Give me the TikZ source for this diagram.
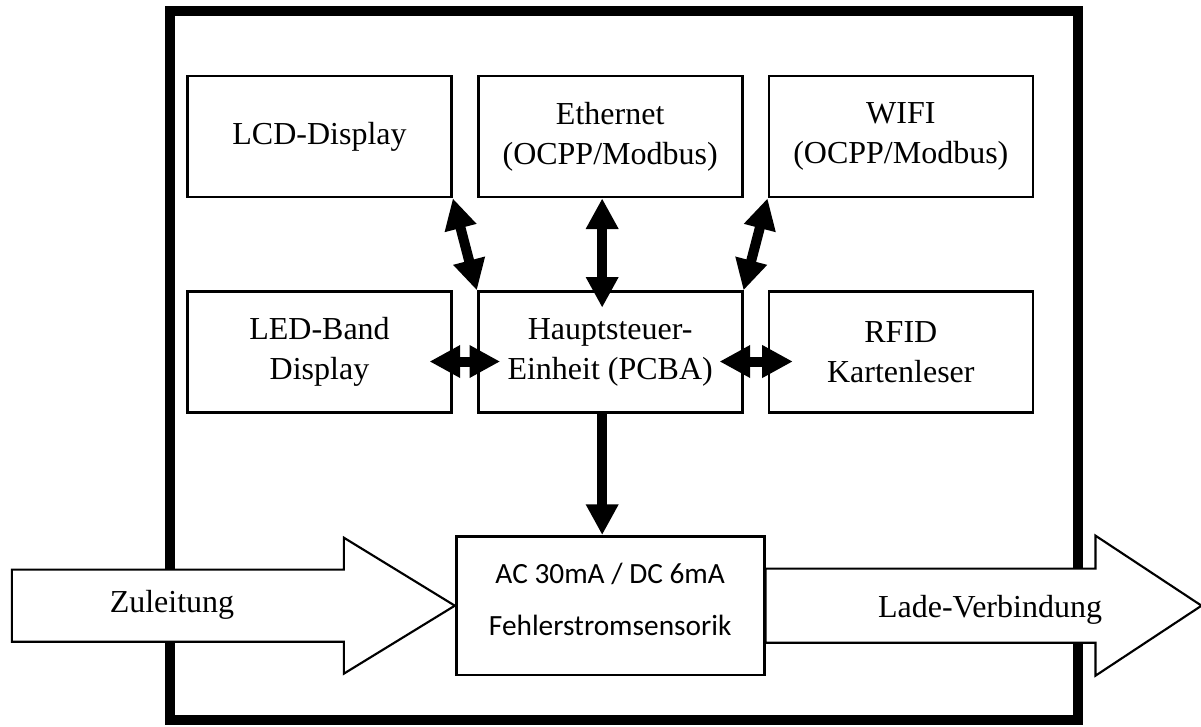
\documentclass[tikz,border=0pt]{standalone}
\usepackage{fontspec}
\setmainfont{Liberation Serif}
\newfontfamily\calibrifont{Carlito}
\usetikzlibrary{arrows.meta,positioning,backgrounds}

\begin{document}
\begin{tikzpicture}[
  x=0.75pt, y=-0.75pt,
  node distance=69pt and 18pt,
  box/.style={draw, line width=2pt, align=center, font=\fontsize{24}{30}\selectfont,
              minimum width=198pt, minimum height=90.75pt, inner sep=0pt},
  dbl/.style={{Triangle[length=23pt,width=23pt]}-{Triangle[length=23pt,width=23pt]},
              line width=7.5pt},
  sgl/.style={-{Triangle[length=23pt,width=23pt]}, line width=7.5pt},
  bigarr/.style={draw, line width=1.6pt, fill=white},
  lbl/.style={font=\fontsize{24}{30}\selectfont, inner sep=0pt}]
\useasboundingbox (0,0) rectangle (1201,726);
% boxes
\node[box] (lcd) at (319.5,136.5) {LCD-Display};
\node[box, right=of lcd] (eth) {Ethernet\\(OCPP/Modbus)};
\node[box, right=of eth] (wifi) {WIFI\\(OCPP/Modbus)};
\node[box, below=of lcd] (led) {LED-Band\\Display};
\node[box, below=of eth] (haupt) {Hauptsteuer-\\Einheit (PCBA)};
\node[box, below=of wifi] (rfid) {RFID\\Kartenleser};
\node[box, below=90.75pt of haupt, minimum width=231pt, minimum height=104pt,
      text depth=10pt, font=\calibrifont\fontsize{22}{39}\selectfont] (ac)
      {AC 30mA / DC 6mA\\Fehlerstromsensorik};
% frame and power arrows behind the boxes
\begin{scope}[on background layer]
\draw[line width=8pt] (170,11) rectangle (1078,720);
\draw[bigarr] (ac.west) -- ++(-111,-68) -- ++(0,32) -- ++(-332,0) -- ++(0,72)
  -- ++(332,0) -- ++(0,32) -- cycle;
\draw[bigarr] (ac.east) -- ++(0,-37) -- ++(330,0) -- ++(0,-33) -- ++(106,70)
  -- ++(-106,70) -- ++(0,-33) -- ++(-330,0) -- cycle;
\end{scope}
\node[lbl, anchor=base] (zul) at (172,612) {Zuleitung};
\node[lbl, anchor=base] (lade) at (990,617) {Lade-Verbindung};
% data links
\draw[dbl] (lcd.south east) -- (haupt.north west);
\draw[dbl] ([xshift=-6pt]eth.south) -- ([shift={(-6pt,-13pt)}]haupt.north);
\draw[dbl] (wifi.south west) -- (haupt.north east);
\draw[dbl] ([shift={(-17.5pt,-7pt)}]led.east) -- ([shift={(17.5pt,-7pt)}]haupt.west);
\draw[dbl] ([shift={(-18pt,-7pt)}]haupt.east) -- ([shift={(19pt,-7pt)}]rfid.west);
\draw[sgl] ([xshift=-6pt]haupt.south) -- ([xshift=-6pt]ac.north);
\end{tikzpicture}
\end{document}
